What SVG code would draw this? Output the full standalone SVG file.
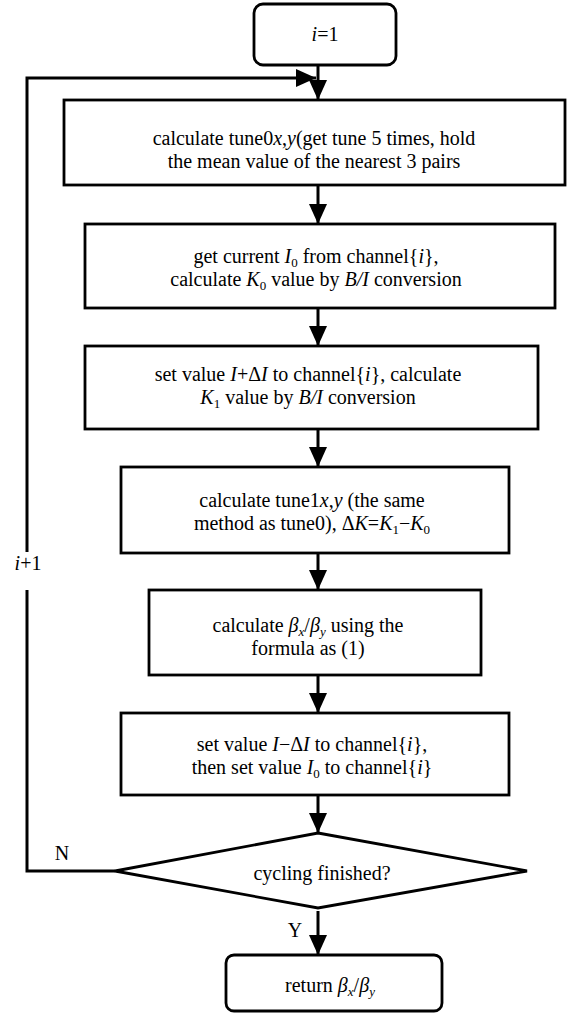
<svg xmlns="http://www.w3.org/2000/svg" width="568" height="1014" viewBox="0 0 568 1014">
<style>
.box{fill:#fff;stroke:#000;stroke-width:2.8}
.ln{fill:none;stroke:#000;stroke-width:3}
text{font-family:"Liberation Serif","Times New Roman",serif;font-size:20px;fill:#000;text-anchor:middle}
.i{font-style:italic}
.s{font-size:13px}
</style>
<defs>
<marker id="ah" viewBox="0 0 20 20" refX="20" refY="10" markerWidth="20" markerHeight="20" markerUnits="userSpaceOnUse" orient="auto">
<path d="M0,1 L20,10 L0,19 Z" fill="#000"/>
</marker>
</defs>
<rect width="568" height="1014" fill="#fff"/>
<g id="connectors">
<line class="ln" x1="318" y1="65" x2="318" y2="100" marker-end="url(#ah)"/>
<line class="ln" x1="318" y1="185" x2="318" y2="224" marker-end="url(#ah)"/>
<line class="ln" x1="318" y1="308" x2="318" y2="346" marker-end="url(#ah)"/>
<line class="ln" x1="318" y1="429" x2="318" y2="467" marker-end="url(#ah)"/>
<line class="ln" x1="318" y1="553" x2="318" y2="590" marker-end="url(#ah)"/>
<line class="ln" x1="318" y1="675" x2="318" y2="713" marker-end="url(#ah)"/>
<line class="ln" x1="318" y1="795" x2="318" y2="833" marker-end="url(#ah)"/>
<line class="ln" x1="318" y1="911" x2="318" y2="955" marker-end="url(#ah)"/>
<polyline class="ln" points="115,871 27,871 27,590"/>
<polyline class="ln" points="27,552 27,78 316,78" marker-end="url(#ah)"/>
<text x="28" y="570"><tspan class="i">i</tspan>+1</text>
<text x="62" y="860">N</text>
<text x="295" y="937">Y</text>
</g>
<g id="start">
<rect class="box" x="254" y="4" width="142" height="61" rx="9"/>
<text x="325" y="41"><tspan class="i">i</tspan>=1</text>
</g>
<g id="tune0">
<rect class="box" x="64" y="100" width="501" height="85"/>
<text x="314" y="145">calculate tune0<tspan class="i">x</tspan>,<tspan class="i">y</tspan>(get tune 5 times, hold</text>
<text x="314" y="168">the mean value of the nearest 3 pairs</text>
</g>
<g id="getcurrent">
<rect class="box" x="85" y="224" width="470" height="84"/>
<text x="316" y="263">get current <tspan class="i">I</tspan><tspan class="s" dy="4">0</tspan><tspan dy="-4"> from channel{</tspan><tspan class="i">i</tspan>},</text>
<text x="316" y="286">calculate <tspan class="i">K</tspan><tspan class="s" dy="4">0</tspan><tspan dy="-4"> value by </tspan><tspan class="i">B/I</tspan> conversion</text>
</g>
<g id="setplus">
<rect class="box" x="85" y="346" width="453" height="83"/>
<text x="308" y="381">set value <tspan class="i">I</tspan>+Δ<tspan class="i">I</tspan> to channel{<tspan class="i">i</tspan>}, calculate</text>
<text x="308" y="404"><tspan class="i">K</tspan><tspan class="s" dy="4">1</tspan><tspan dy="-4"> value by </tspan><tspan class="i">B/I</tspan> conversion</text>
</g>
<g id="tune1">
<rect class="box" x="121" y="467" width="388" height="86"/>
<text x="312" y="507">calculate tune1<tspan class="i">x</tspan>,<tspan class="i">y</tspan> (the same</text>
<text x="312" y="530">method as tune0), Δ<tspan class="i">K</tspan>=<tspan class="i">K</tspan><tspan class="s" dy="4">1</tspan><tspan dy="-4">−</tspan><tspan class="i">K</tspan><tspan class="s" dy="4">0</tspan></text>
</g>
<g id="beta">
<rect class="box" x="149" y="590" width="332" height="85"/>
<text x="308" y="632">calculate <tspan class="i">β</tspan><tspan class="i s" dy="4">x</tspan><tspan dy="-4">/</tspan><tspan class="i">β</tspan><tspan class="i s" dy="4">y</tspan><tspan dy="-4"> using the</tspan></text>
<text x="308" y="655">formula as (1)</text>
</g>
<g id="setminus">
<rect class="box" x="121" y="713" width="388" height="82"/>
<text x="312" y="751">set value <tspan class="i">I</tspan>−Δ<tspan class="i">I</tspan> to channel{<tspan class="i">i</tspan>},</text>
<text x="312" y="774">then set value <tspan class="i">I</tspan><tspan class="s" dy="4">0</tspan><tspan dy="-4"> to channel{</tspan><tspan class="i">i</tspan>}</text>
</g>
<g id="decision">
<polygon class="box" points="318,833 527,871 318,908 115,871"/>
<text x="322" y="880">cycling finished?</text>
</g>
<g id="end">
<rect class="box" x="226" y="955" width="216" height="56" rx="8"/>
<text x="330" y="992">return <tspan class="i">β</tspan><tspan class="i s" dy="4">x</tspan><tspan dy="-4">/</tspan><tspan class="i">β</tspan><tspan class="i s" dy="4">y</tspan></text>
</g>
</svg>
